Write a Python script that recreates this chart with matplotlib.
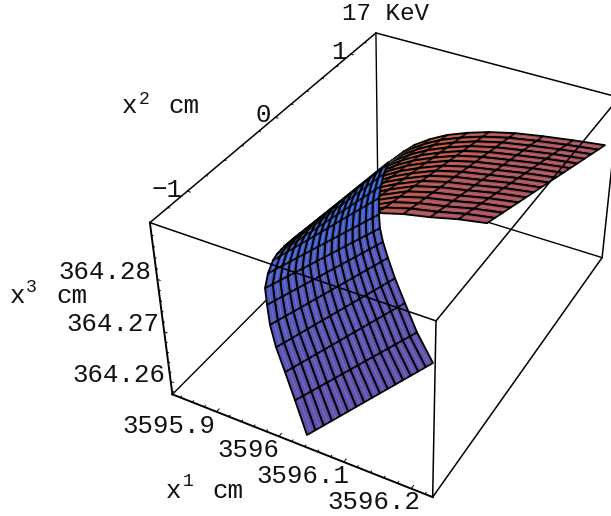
import numpy as np
import matplotlib
matplotlib.use('Agg')
import matplotlib.pyplot as plt
from mpl_toolkits.mplot3d.art3d import Poly3DCollection

W, H = 611, 516

# Axis ranges of the box
x1_lim = (3595.827, 3596.231)
x2_lim = (-1.38, 1.37)
x3_lim = (364.2573, 364.2902)

# Sheet: one row per mesh line, low edge and high edge
x1_low = [3596.0315, 3596.0026, 3595.9833, 3595.9688, 3595.9596, 3595.9545, 3595.9521, 3595.9557, 3595.9597, 3595.9639, 3595.9682,
          3595.9725, 3595.9757, 3595.9789, 3595.9822, 3595.9947, 3596.0098, 3596.0313, 3596.0569, 3596.0864, 3596.1164, 3596.1484]
x2_low = [-1.285, -1.194, -1.152, -1.133, -1.119, -1.101, -1.093, -1.075, -1.039, -1.022, -1.006,
          -0.991, -0.934, -0.867, -0.777, -0.637, -0.514, -0.351, -0.229, -0.124, -0.004, 0.117]
x1_high = [3596.1125, 3596.0797, 3596.054, 3596.0354, 3596.0247, 3596.0196, 3596.0176, 3596.0164, 3596.0101, 3596.0046, 3595.9981,
           3595.9938, 3596.0019, 3596.0068, 3596.0159, 3596.0302, 3596.051, 3596.0738, 3596.1027, 3596.1369, 3596.1753, 3596.2162]
x2_high = [-0.29, -0.23, -0.175, -0.153, -0.156, -0.179, -0.2, -0.201, -0.146, -0.072, 0.025,
           0.117, 0.281, 0.38, 0.515, 0.637, 0.747, 0.873, 1.01, 1.131, 1.248, 1.38]
x3_rows = [364.2573, 364.2612, 364.2652, 364.2691, 364.2728, 364.2761, 364.279, 364.2816, 364.2836, 364.2846, 364.2853,
           364.2859, 364.2863, 364.2863, 364.2859, 364.2856, 364.2853, 364.2846, 364.2836, 364.2826, 364.2816, 364.2803]
row_colors = ['#6052ad', '#5f53b0', '#5c54b3', '#5856b7', '#5558ba', '#5059bd', '#4a5cc3', '#3f5dcc', '#335fd6', '#2a5fdc', '#2558d4',
              '#c0451f', '#c0451f', '#c0471f', '#bd4a28', '#ba4c30', '#b54e3c', '#b0504a', '#ab5054', '#a84f5c', '#a84f5c']
n_strips = 16
n_front = 11

# Ticks
x1_major = [3595.9, 3596.0, 3596.1, 3596.2]
x1_minor = [3595.84, 3595.86, 3595.88, 3595.92, 3595.94, 3595.96, 3595.98, 3596.02, 3596.04, 3596.06, 3596.08,
            3596.12, 3596.14, 3596.16, 3596.18, 3596.22]
x2_major = [-1, 0, 1]
x2_minor = [-1.2, -0.8, -0.6, -0.4, -0.2, 0.2, 0.4, 0.6, 0.8, 1.2]
x3_major = [364.26, 364.27, 364.28]
x3_minor = [364.258, 364.262, 364.264, 364.266, 364.268, 364.272, 364.274, 364.276, 364.278, 364.282, 364.284, 364.286, 364.288]

# Where the box corners sit in the picture, (x1, x2, x3) in 0/1 -> pixel
box_px = {(0, 0, 1): (150, 223), (0, 1, 1): (376, 33), (1, 1, 1): (619, 97), (1, 0, 1): (436, 321),
          (0, 0, 0): (172, 394), (1, 0, 0): (433, 497), (0, 1, 0): (378, 188), (1, 1, 0): (602, 258)}

plt.rcParams['font.family'] = ['Liberation Mono', 'DejaVu Sans Mono']

fig = plt.figure(figsize=(W / 100, H / 100), dpi=100)
# 3d axes are always square, so make it cover the whole figure
side = W / H
ax = fig.add_axes([0, (1 - side) / 2, 1, side], projection='3d', computed_zorder=False)
ax.set_axis_off()
ax.apply_aspect()
inv = ax.transData.inverted()

# Fit the camera to the box corners
rows = []
for c, p in box_px.items():
    u, v = inv.transform((p[0], H - p[1]))
    X = np.array([*c, 1.0])
    rows.append(np.r_[X, 0 * X, -u * X])
    rows.append(np.r_[0 * X, X, -v * X])
P = np.linalg.svd(np.array(rows))[2][-1].reshape(3, 4)
if P[2] @ np.array([.5, .5, .5, 1]) < 0:
    P = -P
T = np.diag([1 / (x1_lim[1] - x1_lim[0]), 1 / (x2_lim[1] - x2_lim[0]), 1 / (x3_lim[1] - x3_lim[0]), 1.0])
T[:3, 3] = [-x1_lim[0] * T[0, 0], -x2_lim[0] * T[1, 1], -x3_lim[0] * T[2, 2]]
Pd = P @ T
M = np.vstack([Pd[0], Pd[1], [0, 0, 0, -1], Pd[2]])
ax.get_proj = lambda: M
ax.M = M

# The sheet
low = np.column_stack([x1_low, x2_low, x3_rows])
high = np.column_stack([x1_high, x2_high, x3_rows])
v = np.linspace(0, 1, n_strips + 1)
grid = np.array([low + t * (high - low) for t in v])  # strip line, row, xyz

for rng, zo in ((range(n_front, len(x3_rows) - 1), 2), (range(0, n_front), 3)):
    verts = []
    cols = []
    for i in rng:
        for j in range(n_strips):
            verts.append([grid[j, i], grid[j + 1, i], grid[j + 1, i + 1], grid[j, i + 1]])
            cols.append(row_colors[i])
    ax.add_collection3d(Poly3DCollection(verts, facecolors=cols, edgecolors='black', linewidths=1.3, zorder=zo))
    # light seams down the middle of each strip
    first, last = rng[0], rng[-1] + 2
    for j in range(n_strips):
        mid = (grid[j, first:last] + grid[j + 1, first:last]) / 2
        ax.plot(mid[:, 0], mid[:, 1], mid[:, 2], color='white', lw=0.5, alpha=0.22, zorder=zo + 0.5)

# dark crease along the fold
ax.plot(grid[:, n_front, 0], grid[:, n_front, 1], grid[:, n_front, 2], color='black', lw=2.0, zorder=3.6)

# The box
xa, xb = x1_lim
ya, yb = x2_lim
za, zb = x3_lim
back = [((xa, ya, za), (xa, yb, za)), ((xa, yb, za), (xb, yb, za)), ((xa, yb, za), (xa, yb, zb))]
front = [((xa, ya, zb), (xa, yb, zb)), ((xa, yb, zb), (xb, yb, zb)), ((xb, yb, zb), (xb, ya, zb)), ((xb, ya, zb), (xa, ya, zb)),
         ((xb, ya, zb), (xb, ya, za)), ((xb, yb, zb), (xb, yb, za)), ((xb, ya, za), (xb, yb, za))]
heavy = [((xa, ya, zb), (xa, ya, za)), ((xa, ya, za), (xb, ya, za))]
for p, q in back:
    ax.plot(*zip(p, q), color='black', lw=1.0, zorder=1)
for p, q in front:
    ax.plot(*zip(p, q), color='black', lw=1.1, zorder=4)
for p, q in heavy:
    ax.plot(*zip(p, q), color='black', lw=1.4, zorder=4)

# Tick marks
def tick(p, q):
    ax.plot(*zip(p, q), color='black', lw=0.7, zorder=4)

for vals, d2 in ((x1_major, 0.03), (x1_minor, 0.015)):
    for t in vals:
        tick((t, ya, za), (t, ya + d2, za))
for vals, d1 in ((x2_major, 0.0045), (x2_minor, 0.0025)):
    for t in vals:
        tick((xa, t, zb), (xa + d1, t, zb))
for vals, d1 in ((x3_major, 0.0045), (x3_minor, 0.0025)):
    for t in vals:
        tick((xa, ya, t), (xa + d1, ya, t))

# Text, centred on its place in the picture
def label(x, y, s, size=18.5):
    fig.text(x / W, 1 - y / H, s, fontsize=size, ha='center', va='center', color='#111111')

label(385, 14, '17 KeV', 17.5)
for s, x, y in (('364.28', 105, 272), ('364.27', 113, 324), ('364.26', 119, 375),
                ('3595.9', 169, 426), ('3596', 248, 450), ('3596.1', 303, 476), ('3596.2', 374, 502),
                ('\u22121', 167, 190), ('0', 263, 115), ('1', 339, 52)):
    label(x, y, s)
for x, y, sx, sy, cx, cy, sup in ((130, 106, 144, 99, 184, 106, '2'), (18, 296, 31, 288, 72, 296, '3'), (174, 491, 188, 481, 228, 491, '1')):
    label(x, y, 'x')
    label(sx, sy, sup, 13)
    label(cx, cy, 'cm')

fig.savefig('out.png', dpi=100)
